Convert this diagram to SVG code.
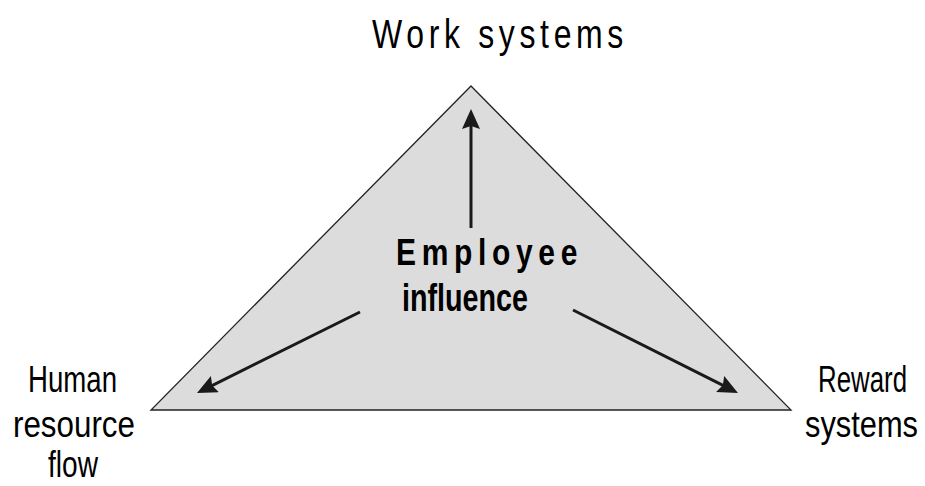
<svg xmlns="http://www.w3.org/2000/svg" width="925" height="486" viewBox="0 0 925 486">
  <style>
    .lbl { font-family: "Liberation Sans", Arial, sans-serif; fill: #000; }
    .bold { font-weight: bold; }
    .side { font-size: 37px; }
    .conn { stroke: #1a1a1a; stroke-width: 3; fill: none; marker-end: url(#arrow); }
  </style>
  <defs>
    <marker id="arrow" viewBox="0 0 20 18" refX="6" refY="9" markerWidth="20" markerHeight="18" markerUnits="userSpaceOnUse" orient="auto">
      <path d="M0,0 L20,9 L0,18 L3,9 z" fill="#1a1a1a"/>
    </marker>
  </defs>
  <rect width="925" height="486" fill="#fff"/>
  <g id="triangle">
    <polygon points="471,86 791,410 151,410" fill="#dcdcdc" stroke="#222" stroke-width="1.3"/>
  </g>
  <g id="work-systems">
    <text class="lbl" x="372" y="48" font-size="41" letter-spacing="6" textLength="256" lengthAdjust="spacingAndGlyphs">Work systems</text>
  </g>
  <g id="employee-influence">
    <text class="lbl bold" x="396" y="265" font-size="37" letter-spacing="7" textLength="187" lengthAdjust="spacingAndGlyphs">Employee</text>
    <text class="lbl bold" x="402" y="311" font-size="38" textLength="126" lengthAdjust="spacingAndGlyphs">influence</text>
  </g>
  <g id="human-resource-flow">
    <text class="lbl side" transform="translate(28,392) scale(0.77,1)" textLength="115.6" lengthAdjust="spacingAndGlyphs">Human</text>
    <text class="lbl side" transform="translate(13,437) scale(0.77,1)" textLength="158.4" lengthAdjust="spacingAndGlyphs">resource</text>
    <text class="lbl side" transform="translate(48,477) scale(0.77,1)" textLength="64.9" lengthAdjust="spacingAndGlyphs">flow</text>
  </g>
  <g id="reward-systems">
    <text class="lbl side" transform="translate(818,392) scale(0.77,1)" textLength="115.6" lengthAdjust="spacingAndGlyphs">Reward</text>
    <text class="lbl side" transform="translate(805,437) scale(0.77,1)" textLength="146.8" lengthAdjust="spacingAndGlyphs">systems</text>
  </g>
  <g id="connectors">
    <line class="conn" x1="471" y1="228" x2="471" y2="123"/>
    <line class="conn" x1="360" y1="312" x2="209.5" y2="386.8"/>
    <line class="conn" x1="573" y1="310" x2="725.5" y2="386.7"/>
  </g>
</svg>
